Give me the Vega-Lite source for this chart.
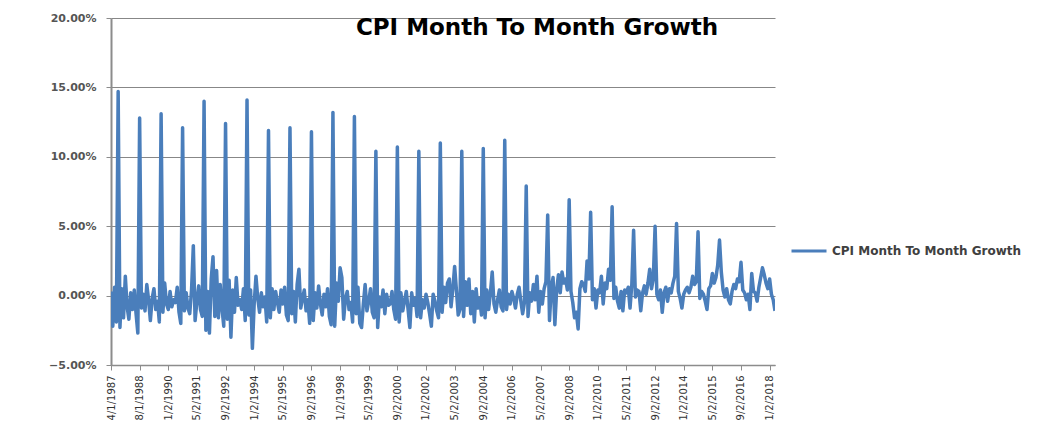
{
  "$schema": "https://vega.github.io/schema/vega-lite/v6.json",
  "width": 664,
  "height": 347,
  "autosize": {"type": "none"},
  "padding": {"left": 111, "top": 18, "right": 281, "bottom": 70},
  "background": "white",
  "title": {
    "text": "CPI Month To Month Growth",
    "font": "DejaVu Sans",
    "fontSize": 23,
    "fontWeight": "bold",
    "color": "#000000",
    "anchor": "middle",
    "frame": "group",
    "baseline": "top",
    "offset": 0,
    "dx": 94,
    "dy": 28
  },
  "data": {
    "values": [
      {"date": "4/1/1987", "growth": 0.003}, {"date": "5/1/1987", "growth": -0.022}, {"date": "6/1/1987", "growth": 0.006}, {"date": "7/1/1987", "growth": -0.019},
      {"date": "8/1/1987", "growth": 0.147}, {"date": "9/1/1987", "growth": -0.023}, {"date": "10/1/1987", "growth": 0.005}, {"date": "11/1/1987", "growth": -0.016},
      {"date": "12/1/1987", "growth": 0.014}, {"date": "1/1/1988", "growth": -0.008}, {"date": "2/1/1988", "growth": -0.017}, {"date": "3/1/1988", "growth": 0.002},
      {"date": "4/1/1988", "growth": -0.010}, {"date": "5/1/1988", "growth": 0.004}, {"date": "6/1/1988", "growth": -0.013}, {"date": "7/1/1988", "growth": -0.027},
      {"date": "8/1/1988", "growth": 0.128}, {"date": "9/1/1988", "growth": -0.009}, {"date": "10/1/1988", "growth": 0.001}, {"date": "11/1/1988", "growth": -0.011},
      {"date": "12/1/1988", "growth": 0.008}, {"date": "1/2/1989", "growth": -0.003}, {"date": "2/2/1989", "growth": -0.018}, {"date": "3/2/1989", "growth": -0.002},
      {"date": "4/2/1989", "growth": 0.005}, {"date": "5/2/1989", "growth": -0.010}, {"date": "7/2/1989", "growth": -0.004}, {"date": "8/2/1989", "growth": -0.019},
      {"date": "9/2/1989", "growth": 0.131}, {"date": "10/2/1989", "growth": -0.012}, {"date": "11/2/1989", "growth": 0.009}, {"date": "12/2/1989", "growth": -0.006},
      {"date": "1/2/1990", "growth": -0.010}, {"date": "2/2/1990", "growth": 0.003}, {"date": "3/2/1990", "growth": -0.008}, {"date": "4/2/1990", "growth": -0.003},
      {"date": "5/2/1990", "growth": -0.005}, {"date": "6/2/1990", "growth": 0.006}, {"date": "7/2/1990", "growth": -0.012}, {"date": "8/2/1990", "growth": -0.020},
      {"date": "9/2/1990", "growth": 0.121}, {"date": "10/2/1990", "growth": -0.011}, {"date": "11/2/1990", "growth": 0.002}, {"date": "12/2/1990", "growth": -0.009},
      {"date": "1/2/1991", "growth": -0.013}, {"date": "2/2/1991", "growth": 0.004}, {"date": "3/2/1991", "growth": 0.036}, {"date": "4/2/1991", "growth": -0.018},
      {"date": "5/2/1991", "growth": -0.004}, {"date": "6/2/1991", "growth": 0.007}, {"date": "7/2/1991", "growth": -0.010}, {"date": "8/2/1991", "growth": -0.015},
      {"date": "9/2/1991", "growth": 0.140}, {"date": "10/2/1991", "growth": -0.025}, {"date": "11/2/1991", "growth": 0.003}, {"date": "12/2/1991", "growth": -0.027},
      {"date": "1/2/1992", "growth": 0.012}, {"date": "2/2/1992", "growth": 0.028}, {"date": "3/2/1992", "growth": -0.015}, {"date": "4/2/1992", "growth": 0.018},
      {"date": "5/2/1992", "growth": -0.016}, {"date": "6/2/1992", "growth": 0.008}, {"date": "7/2/1992", "growth": -0.009}, {"date": "8/2/1992", "growth": -0.022},
      {"date": "9/2/1992", "growth": 0.124}, {"date": "10/2/1992", "growth": -0.017}, {"date": "11/2/1992", "growth": 0.011}, {"date": "12/2/1992", "growth": -0.030},
      {"date": "1/2/1993", "growth": 0.004}, {"date": "2/2/1993", "growth": -0.012}, {"date": "3/2/1993", "growth": 0.013}, {"date": "4/2/1993", "growth": -0.007},
      {"date": "5/2/1993", "growth": -0.003}, {"date": "6/2/1993", "growth": -0.010}, {"date": "7/2/1993", "growth": 0.005}, {"date": "8/2/1993", "growth": -0.018},
      {"date": "9/2/1993", "growth": 0.141}, {"date": "10/2/1993", "growth": -0.014}, {"date": "11/2/1993", "growth": 0.004}, {"date": "12/2/1993", "growth": -0.038},
      {"date": "1/2/1994", "growth": -0.006}, {"date": "2/2/1994", "growth": 0.014}, {"date": "3/2/1994", "growth": -0.002}, {"date": "4/2/1994", "growth": -0.012},
      {"date": "5/2/1994", "growth": 0.002}, {"date": "6/2/1994", "growth": -0.008}, {"date": "7/2/1994", "growth": -0.001}, {"date": "8/2/1994", "growth": -0.019},
      {"date": "9/2/1994", "growth": 0.119}, {"date": "10/2/1994", "growth": -0.016}, {"date": "11/2/1994", "growth": 0.005}, {"date": "12/2/1994", "growth": -0.010},
      {"date": "1/2/1995", "growth": 0.003}, {"date": "2/2/1995", "growth": -0.005}, {"date": "3/2/1995", "growth": -0.012}, {"date": "4/2/1995", "growth": 0.004},
      {"date": "5/2/1995", "growth": -0.006}, {"date": "6/2/1995", "growth": 0.006}, {"date": "7/2/1995", "growth": -0.014}, {"date": "8/2/1995", "growth": -0.018},
      {"date": "9/2/1995", "growth": 0.121}, {"date": "10/2/1995", "growth": -0.013}, {"date": "11/2/1995", "growth": 0.003}, {"date": "12/2/1995", "growth": -0.019},
      {"date": "1/2/1996", "growth": 0.008}, {"date": "2/2/1996", "growth": 0.019}, {"date": "3/2/1996", "growth": -0.009}, {"date": "4/2/1996", "growth": -0.002},
      {"date": "5/2/1996", "growth": 0.004}, {"date": "6/2/1996", "growth": -0.011}, {"date": "7/2/1996", "growth": -0.003}, {"date": "8/2/1996", "growth": -0.020},
      {"date": "9/2/1996", "growth": 0.118}, {"date": "10/2/1996", "growth": -0.018}, {"date": "11/2/1996", "growth": 0.002}, {"date": "12/2/1996", "growth": -0.009},
      {"date": "1/2/1997", "growth": 0.007}, {"date": "2/2/1997", "growth": -0.006}, {"date": "3/2/1997", "growth": -0.014}, {"date": "4/2/1997", "growth": 0.001},
      {"date": "5/2/1997", "growth": -0.008}, {"date": "6/2/1997", "growth": 0.005}, {"date": "7/2/1997", "growth": -0.015}, {"date": "8/2/1997", "growth": -0.021},
      {"date": "9/2/1997", "growth": 0.132}, {"date": "10/2/1997", "growth": -0.022}, {"date": "11/2/1997", "growth": 0.009}, {"date": "12/2/1997", "growth": -0.004},
      {"date": "1/2/1998", "growth": 0.020}, {"date": "2/2/1998", "growth": 0.013}, {"date": "3/2/1998", "growth": -0.017}, {"date": "4/2/1998", "growth": -0.002},
      {"date": "5/2/1998", "growth": 0.003}, {"date": "6/2/1998", "growth": -0.010}, {"date": "7/2/1998", "growth": -0.005}, {"date": "8/2/1998", "growth": -0.019},
      {"date": "9/2/1998", "growth": 0.129}, {"date": "10/2/1998", "growth": -0.013}, {"date": "11/2/1998", "growth": 0.006}, {"date": "12/2/1998", "growth": -0.020},
      {"date": "1/2/1999", "growth": -0.023}, {"date": "2/2/1999", "growth": -0.006}, {"date": "3/2/1999", "growth": 0.008}, {"date": "4/2/1999", "growth": -0.011},
      {"date": "5/2/1999", "growth": -0.004}, {"date": "6/2/1999", "growth": 0.005}, {"date": "7/2/1999", "growth": -0.012}, {"date": "8/2/1999", "growth": -0.016},
      {"date": "9/2/1999", "growth": 0.104}, {"date": "10/2/1999", "growth": -0.023}, {"date": "11/2/1999", "growth": -0.001}, {"date": "12/2/1999", "growth": -0.008},
      {"date": "1/2/2000", "growth": 0.004}, {"date": "2/2/2000", "growth": -0.013}, {"date": "3/2/2000", "growth": 0.001}, {"date": "4/2/2000", "growth": -0.007},
      {"date": "5/2/2000", "growth": -0.006}, {"date": "6/2/2000", "growth": 0.003}, {"date": "7/2/2000", "growth": -0.010}, {"date": "8/2/2000", "growth": -0.017},
      {"date": "9/2/2000", "growth": 0.107}, {"date": "10/2/2000", "growth": -0.019}, {"date": "11/2/2000", "growth": 0.002}, {"date": "12/2/2000", "growth": -0.011},
      {"date": "1/2/2001", "growth": -0.004}, {"date": "2/2/2001", "growth": 0.003}, {"date": "3/2/2001", "growth": -0.010}, {"date": "4/2/2001", "growth": -0.023},
      {"date": "5/2/2001", "growth": 0.002}, {"date": "6/2/2001", "growth": -0.007}, {"date": "7/2/2001", "growth": -0.002}, {"date": "8/2/2001", "growth": -0.015},
      {"date": "9/2/2001", "growth": 0.104}, {"date": "10/2/2001", "growth": -0.016}, {"date": "11/2/2001", "growth": -0.003}, {"date": "12/2/2001", "growth": -0.009},
      {"date": "1/2/2002", "growth": 0.001}, {"date": "2/2/2002", "growth": -0.005}, {"date": "3/2/2002", "growth": -0.013}, {"date": "4/2/2002", "growth": -0.022},
      {"date": "5/2/2002", "growth": 0.001}, {"date": "6/2/2002", "growth": -0.004}, {"date": "7/2/2002", "growth": -0.011}, {"date": "8/2/2002", "growth": -0.016},
      {"date": "9/2/2002", "growth": 0.110}, {"date": "10/2/2002", "growth": -0.012}, {"date": "11/2/2002", "growth": 0.006}, {"date": "12/2/2002", "growth": -0.005},
      {"date": "1/2/2003", "growth": 0.009}, {"date": "2/2/2003", "growth": 0.012}, {"date": "3/2/2003", "growth": -0.008}, {"date": "4/2/2003", "growth": 0.005},
      {"date": "5/2/2003", "growth": 0.021}, {"date": "6/2/2003", "growth": 0.004}, {"date": "7/2/2003", "growth": -0.014}, {"date": "8/2/2003", "growth": -0.010},
      {"date": "9/2/2003", "growth": 0.104}, {"date": "10/2/2003", "growth": -0.015}, {"date": "11/2/2003", "growth": 0.010}, {"date": "12/2/2003", "growth": -0.007},
      {"date": "1/2/2004", "growth": 0.012}, {"date": "2/2/2004", "growth": -0.013}, {"date": "3/2/2004", "growth": 0.003}, {"date": "4/2/2004", "growth": -0.019},
      {"date": "5/2/2004", "growth": 0.005}, {"date": "6/2/2004", "growth": -0.009}, {"date": "7/2/2004", "growth": -0.002}, {"date": "8/2/2004", "growth": -0.014},
      {"date": "9/2/2004", "growth": 0.106}, {"date": "10/2/2004", "growth": -0.016}, {"date": "11/2/2004", "growth": 0.004}, {"date": "12/2/2004", "growth": -0.010},
      {"date": "1/2/2005", "growth": 0.002}, {"date": "2/2/2005", "growth": 0.017}, {"date": "3/2/2005", "growth": -0.006}, {"date": "4/2/2005", "growth": -0.012},
      {"date": "5/2/2005", "growth": -0.003}, {"date": "6/2/2005", "growth": 0.004}, {"date": "7/2/2005", "growth": -0.008}, {"date": "8/2/2005", "growth": -0.011},
      {"date": "9/2/2005", "growth": 0.112}, {"date": "10/2/2005", "growth": -0.010}, {"date": "11/2/2005", "growth": 0.001}, {"date": "12/2/2005", "growth": -0.006},
      {"date": "1/2/2006", "growth": 0.003}, {"date": "2/2/2006", "growth": -0.002}, {"date": "3/2/2006", "growth": -0.009}, {"date": "4/2/2006", "growth": 0.001},
      {"date": "5/2/2006", "growth": 0.006}, {"date": "6/2/2006", "growth": -0.004}, {"date": "7/2/2006", "growth": -0.013}, {"date": "8/2/2006", "growth": -0.005},
      {"date": "9/2/2006", "growth": 0.079}, {"date": "10/2/2006", "growth": -0.015}, {"date": "11/2/2006", "growth": 0.002}, {"date": "12/2/2006", "growth": -0.004},
      {"date": "1/2/2007", "growth": 0.008}, {"date": "2/2/2007", "growth": -0.003}, {"date": "3/2/2007", "growth": 0.014}, {"date": "4/2/2007", "growth": -0.012},
      {"date": "5/2/2007", "growth": 0.003}, {"date": "6/2/2007", "growth": -0.006}, {"date": "7/2/2007", "growth": 0.005}, {"date": "8/2/2007", "growth": 0.010},
      {"date": "9/2/2007", "growth": 0.058}, {"date": "10/2/2007", "growth": -0.018}, {"date": "11/2/2007", "growth": 0.006}, {"date": "12/2/2007", "growth": 0.013},
      {"date": "1/2/2008", "growth": -0.021}, {"date": "2/2/2008", "growth": 0.004}, {"date": "3/2/2008", "growth": 0.015}, {"date": "4/2/2008", "growth": 0.002},
      {"date": "5/2/2008", "growth": 0.017}, {"date": "6/2/2008", "growth": 0.009}, {"date": "7/2/2008", "growth": 0.012}, {"date": "8/2/2008", "growth": 0.004},
      {"date": "9/2/2008", "growth": 0.069}, {"date": "10/2/2008", "growth": 0.003}, {"date": "11/2/2008", "growth": -0.005}, {"date": "12/2/2008", "growth": -0.016},
      {"date": "1/2/2009", "growth": -0.012}, {"date": "2/2/2009", "growth": -0.024}, {"date": "3/2/2009", "growth": 0.005}, {"date": "4/2/2009", "growth": 0.010},
      {"date": "5/2/2009", "growth": 0.008}, {"date": "6/2/2009", "growth": 0.003}, {"date": "7/2/2009", "growth": 0.025}, {"date": "8/2/2009", "growth": 0.012},
      {"date": "9/2/2009", "growth": 0.060}, {"date": "10/2/2009", "growth": -0.003}, {"date": "11/2/2009", "growth": 0.005}, {"date": "12/2/2009", "growth": -0.009},
      {"date": "1/2/2010", "growth": 0.004}, {"date": "2/2/2010", "growth": 0.002}, {"date": "3/2/2010", "growth": 0.014}, {"date": "4/2/2010", "growth": -0.006},
      {"date": "5/2/2010", "growth": 0.009}, {"date": "6/2/2010", "growth": 0.005}, {"date": "7/2/2010", "growth": 0.019}, {"date": "8/2/2010", "growth": 0.011},
      {"date": "9/2/2010", "growth": 0.064}, {"date": "10/2/2010", "growth": -0.002}, {"date": "11/2/2010", "growth": 0.006}, {"date": "12/2/2010", "growth": -0.004},
      {"date": "1/2/2011", "growth": -0.009}, {"date": "2/2/2011", "growth": 0.003}, {"date": "3/2/2011", "growth": -0.011}, {"date": "4/2/2011", "growth": 0.004},
      {"date": "5/2/2011", "growth": 0.002}, {"date": "6/2/2011", "growth": 0.006}, {"date": "7/2/2011", "growth": -0.009}, {"date": "8/2/2011", "growth": 0.008},
      {"date": "9/2/2011", "growth": 0.047}, {"date": "10/2/2011", "growth": -0.001}, {"date": "11/2/2011", "growth": 0.004}, {"date": "12/2/2011", "growth": 0.003},
      {"date": "1/2/2012", "growth": -0.011}, {"date": "2/2/2012", "growth": 0.002}, {"date": "3/2/2012", "growth": 0.007}, {"date": "4/2/2012", "growth": 0.001},
      {"date": "5/2/2012", "growth": 0.009}, {"date": "6/2/2012", "growth": 0.019}, {"date": "7/2/2012", "growth": 0.005}, {"date": "8/2/2012", "growth": 0.012},
      {"date": "9/2/2012", "growth": 0.050}, {"date": "10/2/2012", "growth": 0.001}, {"date": "11/2/2012", "growth": -0.003}, {"date": "12/2/2012", "growth": 0.004},
      {"date": "1/2/2013", "growth": -0.012}, {"date": "2/2/2013", "growth": 0.002}, {"date": "3/2/2013", "growth": 0.006}, {"date": "4/2/2013", "growth": -0.004},
      {"date": "5/2/2013", "growth": 0.005}, {"date": "6/2/2013", "growth": 0.002}, {"date": "7/2/2013", "growth": 0.009}, {"date": "8/2/2013", "growth": 0.014},
      {"date": "9/2/2013", "growth": 0.052}, {"date": "10/2/2013", "growth": 0.003}, {"date": "11/2/2013", "growth": -0.002}, {"date": "12/2/2013", "growth": -0.009},
      {"date": "1/2/2014", "growth": 0.001}, {"date": "2/2/2014", "growth": 0.004}, {"date": "3/2/2014", "growth": 0.006}, {"date": "4/2/2014", "growth": 0.002},
      {"date": "5/2/2014", "growth": 0.006}, {"date": "6/2/2014", "growth": 0.014}, {"date": "7/2/2014", "growth": 0.008}, {"date": "8/2/2014", "growth": 0.010},
      {"date": "9/2/2014", "growth": 0.046}, {"date": "10/2/2014", "growth": -0.002}, {"date": "11/2/2014", "growth": 0.003}, {"date": "12/2/2014", "growth": 0.001},
      {"date": "1/2/2015", "growth": -0.004}, {"date": "2/2/2015", "growth": -0.010}, {"date": "3/2/2015", "growth": 0.005}, {"date": "4/2/2015", "growth": 0.007},
      {"date": "5/2/2015", "growth": 0.016}, {"date": "6/2/2015", "growth": 0.009}, {"date": "7/2/2015", "growth": 0.013}, {"date": "8/2/2015", "growth": 0.022},
      {"date": "9/2/2015", "growth": 0.040}, {"date": "10/2/2015", "growth": 0.017}, {"date": "11/2/2015", "growth": 0.004}, {"date": "12/2/2015", "growth": -0.001},
      {"date": "1/2/2016", "growth": 0.005}, {"date": "2/2/2016", "growth": -0.003}, {"date": "3/2/2016", "growth": -0.006}, {"date": "4/2/2016", "growth": 0.003},
      {"date": "5/2/2016", "growth": 0.008}, {"date": "6/2/2016", "growth": 0.005}, {"date": "7/2/2016", "growth": 0.012}, {"date": "8/2/2016", "growth": 0.010},
      {"date": "9/2/2016", "growth": 0.024}, {"date": "10/2/2016", "growth": 0.004}, {"date": "11/2/2016", "growth": 0.002}, {"date": "12/2/2016", "growth": -0.003},
      {"date": "1/2/2017", "growth": 0.001}, {"date": "2/2/2017", "growth": -0.010}, {"date": "3/2/2017", "growth": 0.016}, {"date": "4/2/2017", "growth": 0.003},
      {"date": "5/2/2017", "growth": 0.002}, {"date": "6/2/2017", "growth": -0.004}, {"date": "7/2/2017", "growth": 0.006}, {"date": "8/2/2017", "growth": 0.013},
      {"date": "9/2/2017", "growth": 0.020}, {"date": "10/2/2017", "growth": 0.015}, {"date": "11/2/2017", "growth": 0.009}, {"date": "12/2/2017", "growth": 0.005},
      {"date": "1/2/2018", "growth": 0.012}, {"date": "2/2/2018", "growth": 0.001}, {"date": "3/2/2018", "growth": -0.003}, {"date": "4/2/2018", "growth": -0.011}
    ]
  },
  "mark": {"type": "line", "strokeWidth": 3.5, "strokeJoin": "round", "clip": true},
  "encoding": {
    "x": {
      "field": "date",
      "type": "ordinal",
      "sort": null,
      "scale": {"type": "point", "padding": 0},
      "axis": {
        "title": null,
        "values": ["4/1/1987", "8/1/1988", "1/2/1990", "5/2/1991", "9/2/1992", "1/2/1994", "5/2/1995", "9/2/1996", "1/2/1998", "5/2/1999", "9/2/2000", "1/2/2002", "5/2/2003", "9/2/2004", "1/2/2006", "5/2/2007", "9/2/2008", "1/2/2010", "5/2/2011", "9/2/2012", "1/2/2014", "5/2/2015", "9/2/2016", "1/2/2018"],
        "labelAngle": -90,
        "labelFont": "DejaVu Sans",
        "labelFontSize": 10,
        "labelColor": "#333333",
        "labelPadding": 5,
        "labelOverlap": false,
        "domainColor": "#8c8c8c",
        "domainWidth": 1.5,
        "tickColor": "#8c8c8c",
        "tickSize": 5,
        "grid": false
      }
    },
    "y": {
      "field": "growth",
      "type": "quantitative",
      "scale": {"domain": [-0.05, 0.2], "nice": false, "zero": false},
      "axis": {
        "title": null,
        "values": [-0.05, 0, 0.05, 0.1, 0.15, 0.2],
        "format": ".2%",
        "labelFont": "DejaVu Sans",
        "labelFontSize": 11,
        "labelFontWeight": "bold",
        "labelColor": "#555555",
        "labelPadding": 10,
        "domainColor": "#8c8c8c",
        "domainWidth": 2,
        "tickColor": "#8c8c8c",
        "tickSize": 5,
        "grid": true,
        "gridColor": "#878787",
        "gridWidth": 1
      }
    },
    "color": {
      "datum": "CPI Month To Month Growth",
      "type": "nominal",
      "scale": {"range": ["#4a7ebb"]},
      "legend": {
        "title": null,
        "orient": "none",
        "legendX": 679,
        "legendY": 214,
        "padding": 0,
        "symbolType": "stroke",
        "symbolSize": 1225,
        "symbolStrokeWidth": 3,
        "labelFont": "DejaVu Sans",
        "labelFontSize": 12,
        "labelFontWeight": "bold",
        "labelColor": "#404040",
        "labelOffset": 4,
        "labelLimit": 400
      }
    }
  },
  "config": {"view": {"stroke": null}}
}
